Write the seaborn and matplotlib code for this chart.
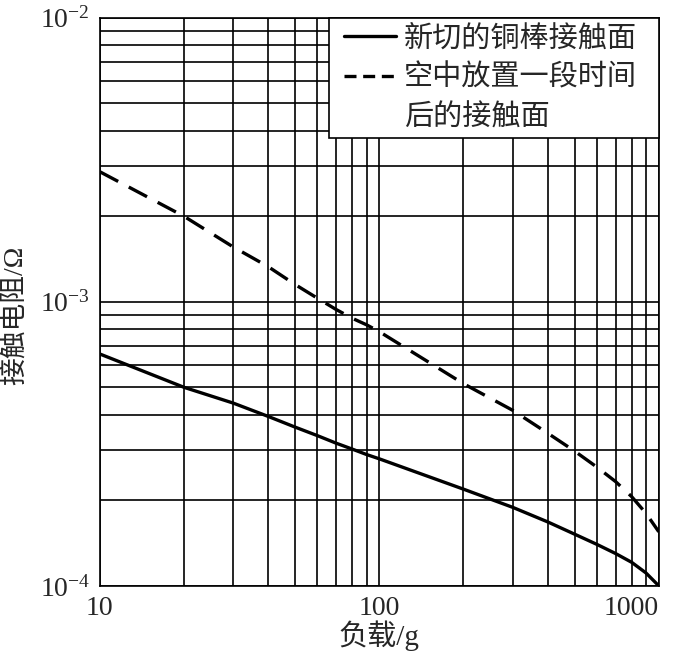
import matplotlib
matplotlib.use("Agg")
import matplotlib.pyplot as plt
from matplotlib.lines import Line2D
from matplotlib.legend_handler import HandlerLine2D
from matplotlib.ticker import FixedLocator, FixedFormatter, LogLocator, NullFormatter
import seaborn as sns

# values (load in g, resistance in ohm)
load_g = [10, 20, 30, 40, 50, 60, 70, 80, 90, 100,
          200, 300, 400, 500, 600, 700, 800, 900, 1000]
r_fresh = [6.55e-4, 5.0e-4, 4.4e-4, 3.95e-4, 3.62e-4, 3.38e-4, 3.18e-4, 3.03e-4, 2.9e-4, 2.8e-4,
           2.19e-4, 1.89e-4, 1.68e-4, 1.52e-4, 1.40e-4, 1.30e-4, 1.21e-4, 1.11e-4, 1.0e-4]
r_aged = [2.87e-3, 2.0e-3, 1.56e-3, 1.33e-3, 1.15e-3, 1.03e-3, 9.4e-4, 8.75e-4, 8.3e-4, 7.85e-4,
          5.15e-4, 4.15e-4, 3.45e-4, 2.98e-4, 2.62e-4, 2.33e-4, 2.06e-4, 1.8e-4, 1.55e-4]

x_ticks = [10, 100, 1000]
x_tick_labels = ["10", "100", "1000"]
legend_labels = ["新切的铜棒接触面", "空中放置一段时间", "后的接触面"]

sns.set_style("white")
plt.rcParams["font.family"] = ["Liberation Serif", "Noto Sans CJK SC"]
plt.rcParams["axes.unicode_minus"] = True

fig, ax = plt.subplots(figsize=(6.75, 6.59), dpi=100)
fig.subplots_adjust(left=0.148, right=0.976, bottom=0.111, top=0.973)

sns.lineplot(x=load_g, y=r_fresh, ax=ax, color="black", lw=2.4, zorder=3)
sns.lineplot(x=load_g, y=r_aged, ax=ax, color="black", lw=2.4, zorder=3)
ax.lines[-1].set_dashes((6.2, 3.6))

ax.set_xscale("log")
ax.set_yscale("log")
ax.set_xlim(10, 1000)
ax.set_ylim(1e-4, 1e-2)

ax.xaxis.set_major_locator(FixedLocator(x_ticks))
ax.xaxis.set_major_formatter(FixedFormatter(x_tick_labels))
ax.xaxis.set_minor_locator(LogLocator(base=10, subs=range(2, 10)))
ax.xaxis.set_minor_formatter(NullFormatter())
ax.yaxis.set_minor_locator(LogLocator(base=10, subs=range(2, 10)))
ax.yaxis.set_minor_formatter(NullFormatter())

ax.grid(True, which="both", color="black", lw=1.2)
ax.set_axisbelow(True)
ax.tick_params(which="both", length=0)
ax.tick_params(which="major", labelsize=20, pad=7, labelfontfamily="Liberation Serif")

for s in ax.spines.values():
    s.set_color("black")
    s.set_linewidth(1.2)

ax.set_xlabel("负载/g", fontsize=21)
ax.set_ylabel("接触电阻/Ω", fontsize=20)
ax.xaxis.set_label_coords(0.5, -0.06)
ax.xaxis.label.set_va("top")
ax.yaxis.set_label_coords(-0.129, 0.476)

fig.canvas.draw()
ax.get_xticklabels()[-1].set_ha("right")

handles = [
    Line2D([], [], color="black", lw=2.4),
    Line2D([], [], color="black", lw=2.4, dashes=(3.6, 2.0)),
    Line2D([], [], color="none"),
]
leg = ax.legend(handles, legend_labels, loc="upper left", bbox_to_anchor=(0.41, 0.0, 0.59, 1.0),
                mode="expand", borderaxespad=0, frameon=True, fancybox=False, framealpha=1,
                edgecolor="black", prop={"family": "Noto Sans CJK SC", "size": 21},
                handlelength=2.09, handletextpad=0.27, labelspacing=0.32, borderpad=0.2,
                handler_map={Line2D: HandlerLine2D(xpad=0.31)})
leg.get_frame().set_linewidth(1.2)
leg.set_zorder(5)

plt.savefig("out.png", dpi=100)
